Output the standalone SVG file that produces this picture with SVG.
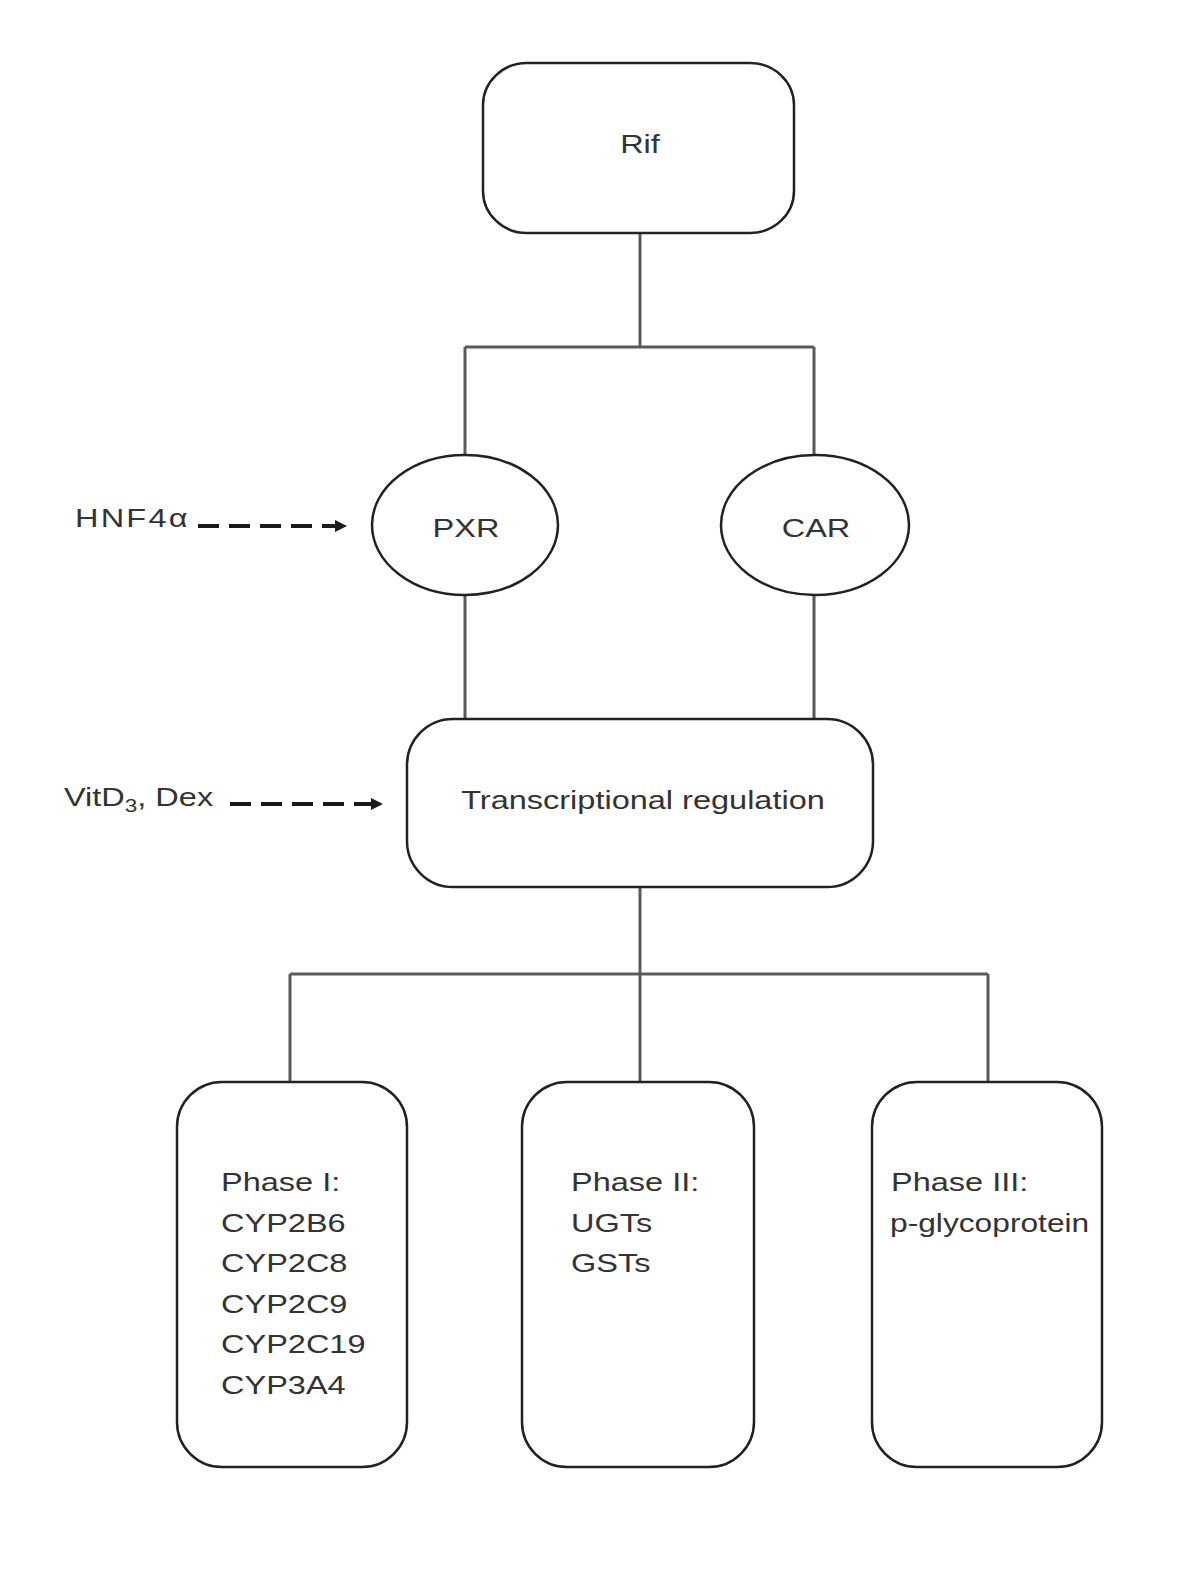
<svg xmlns="http://www.w3.org/2000/svg" width="1200" height="1585" viewBox="0 0 1200 1585">
  <style>
    .box { fill: #ffffff; stroke: #222222; stroke-width: 2.5; }
    .conn { fill: none; stroke: #5a5a5a; stroke-width: 3; }
    .dash { fill: none; stroke: #1a1a1a; stroke-width: 4; stroke-dasharray: 21 10; }
    .lbl { font-family: "Liberation Sans", Arial, sans-serif; font-size: 26px; fill: #333333; }
    .mid { text-anchor: middle; }
  </style>
  <defs>
    <marker id="arr" viewBox="0 0 10 10" refX="10" refY="5" markerWidth="4" markerHeight="3" markerUnits="strokeWidth" orient="auto">
      <path d="M0,0 L10,5 L0,10 Z" fill="#1a1a1a"/>
    </marker>
  </defs>
  <rect width="1200" height="1585" fill="#ffffff"/>

  <g id="connectors">
    <path class="conn" d="M640,233 V347 M465,347 H814 M465,347 V455 M814,347 V455"/>
    <path class="conn" d="M465,595 V719 M814,595 V719"/>
    <path class="conn" d="M640,887 V1082 M290,974 H988 M290,974 V1082 M988,974 V1082"/>
    <path class="dash" d="M198,526 H347" marker-end="url(#arr)"/>
    <path class="dash" d="M230,804 H383" marker-end="url(#arr)"/>
  </g>

  <g id="node-rif">
    <rect class="box" x="483" y="63" width="311" height="170" rx="44" ry="42"/>
    <text class="lbl mid" transform="translate(640,153) scale(1.25,1)">Rif</text>
  </g>

  <g id="node-pxr">
    <ellipse class="box" cx="465" cy="525" rx="93" ry="70"/>
    <text class="lbl mid" transform="translate(466,537) scale(1.25,1)">PXR</text>
  </g>

  <g id="node-car">
    <ellipse class="box" cx="815" cy="525" rx="94" ry="70"/>
    <text class="lbl mid" transform="translate(816,537) scale(1.25,1)">CAR</text>
  </g>

  <g id="node-hnf4a">
    <text class="lbl" transform="translate(75,527) scale(1.25,1)" textLength="90" lengthAdjust="spacing">HNF4α</text>
  </g>

  <g id="node-vitd3-dex">
    <text class="lbl" transform="translate(64,806) scale(1.25,1)">VitD<tspan font-size="18" dy="6">3</tspan><tspan dy="-6">, Dex</tspan></text>
  </g>

  <g id="node-transcriptional">
    <rect class="box" x="407" y="719" width="466" height="168" rx="46" ry="46"/>
    <text class="lbl mid" transform="translate(643,809) scale(1.25,1)">Transcriptional regulation</text>
  </g>

  <g id="node-phase1">
    <rect class="box" x="177" y="1082" width="230" height="385" rx="45" ry="45"/>
    <text class="lbl" transform="translate(221,1191) scale(1.25,1)">Phase I:</text>
    <text class="lbl" transform="translate(221,1232) scale(1.25,1)">CYP2B6</text>
    <text class="lbl" transform="translate(221,1272) scale(1.25,1)">CYP2C8</text>
    <text class="lbl" transform="translate(221,1313) scale(1.25,1)">CYP2C9</text>
    <text class="lbl" transform="translate(221,1353) scale(1.25,1)">CYP2C19</text>
    <text class="lbl" transform="translate(221,1394) scale(1.25,1)">CYP3A4</text>
  </g>

  <g id="node-phase2">
    <rect class="box" x="522" y="1082" width="232" height="385" rx="45" ry="45"/>
    <text class="lbl" transform="translate(571,1191) scale(1.25,1)">Phase II:</text>
    <text class="lbl" transform="translate(571,1232) scale(1.25,1)">UGTs</text>
    <text class="lbl" transform="translate(571,1272) scale(1.25,1)">GSTs</text>
  </g>

  <g id="node-phase3">
    <rect class="box" x="872" y="1082" width="230" height="385" rx="45" ry="45"/>
    <text class="lbl" transform="translate(891,1191) scale(1.25,1)">Phase III:</text>
    <text class="lbl" transform="translate(890,1232) scale(1.22,1)">p-glycoprotein</text>
  </g>
</svg>
